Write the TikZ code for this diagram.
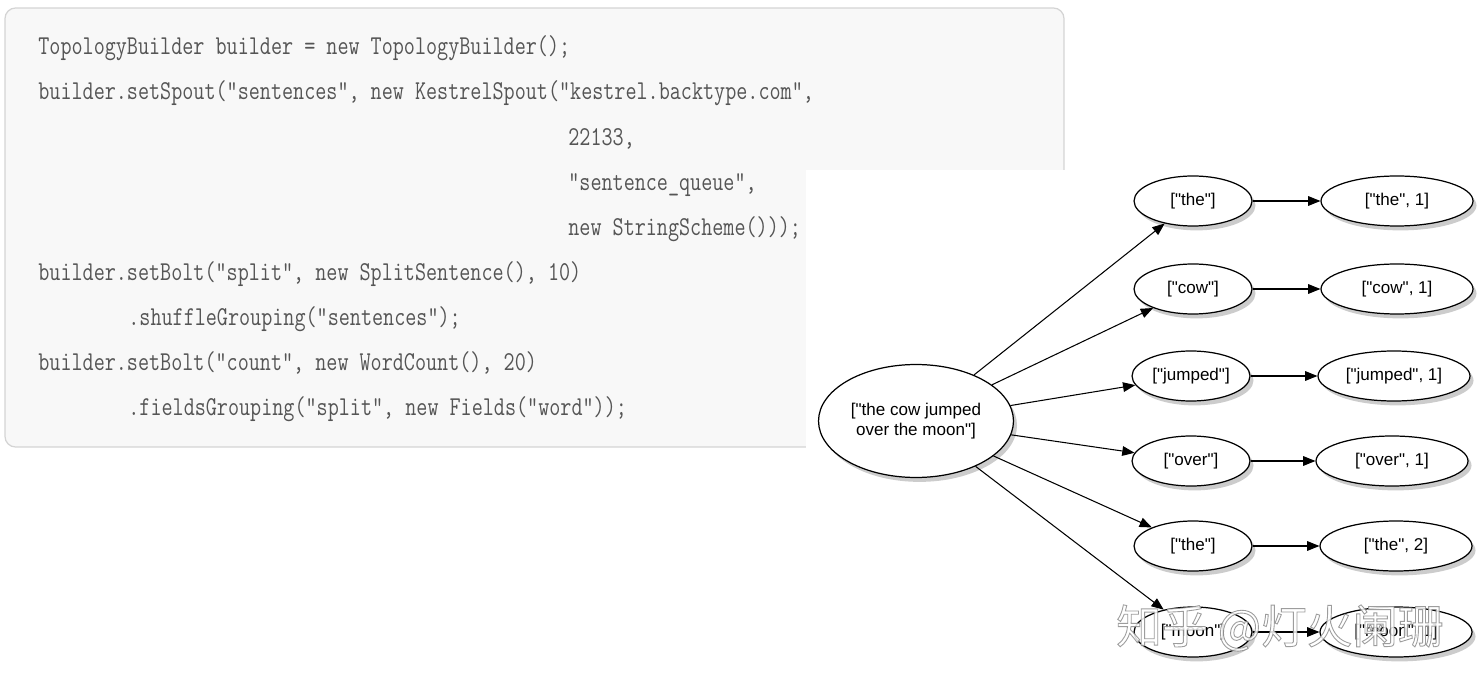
\documentclass[tikz,border=0pt]{standalone}
\usepackage{fontspec}
\setmainfont{Liberation Sans}[Ligatures=TeXOff]
\newfontfamily\wmfont{Noto Sans CJK SC}
\usepackage{graphicx}
\usepackage{xcolor}
\usetikzlibrary{positioning,shapes.geometric,arrows.meta,shadows}

\definecolor{codegray}{HTML}{555555}
\definecolor{panelfill}{HTML}{F8F8F8}
\definecolor{panelline}{HTML}{D4D4D4}

% narrow monospace line
\newcommand{\cl}[1]{\scalebox{0.79}[1]{#1}}

\tikzset{
  code/.style={anchor=base west, inner sep=0pt, text=codegray,
    font=\ttfamily\fontsize{15.5}{18}\selectfont},
  tuple/.style={ellipse, draw, line width=0.7pt, fill=white, inner sep=1pt,
    minimum height=1cm, font=\fontsize{9.7}{11.5}\selectfont,
    drop shadow={opacity=0.4, shadow xshift=2pt, shadow yshift=-2.5pt}},
  wordnode/.style={tuple, minimum width=2.36cm},
  pairnode/.style={tuple, minimum width=3.04cm},
  link/.style={-{Triangle[length=7pt,width=5.5pt]}, line width=0.6pt}
}

\begin{document}
\begin{tikzpicture}[x=0.02cm,y=-0.02cm]
\useasboundingbox (0,0) rectangle (1479,678);

% CODE PANEL
\draw[panelline, fill=panelfill, line width=0.7pt, rounded corners=6pt] (5,8) rectangle (1064,447);
\node[code] (l1) at (38,55) {\cl{TopologyBuilder builder = new TopologyBuilder();}};
\node[code] (l2) at (38,100) {\cl{builder.setSpout("sentences", new KestrelSpout("kestrel.backtype.com",}};
\node[code] (l3) at (568,145.5) {\cl{22133,}};
\node[code] (l4) at (568,191) {\cl{"sentence\_queue",}};
\node[code] (l5) at (568,236) {\cl{new StringScheme()));}};
\node[code] (l6) at (38,281) {\cl{builder.setBolt("split", new SplitSentence(), 10)}};
\node[code] (l7) at (128,326) {\cl{.shuffleGrouping("sentences");}};
\node[code] (l8) at (38,371) {\cl{builder.setBolt("count", new WordCount(), 20)}};
\node[code] (l9) at (128,416) {\cl{.fieldsGrouping("split", new Fields("word"));}};

% TOPOLOGY (overlaid picture)
\fill[white] (806,170) rectangle (1479,678);

\node[tuple, minimum width=3.9cm, minimum height=2.26cm, align=center] (sent) at (916,421)
  {["the cow jumped\\over the moon"]};

\node[wordnode] (w1) at (1193,201) {["the"]};
\node[wordnode] (w2) at (1193,289) {["cow"]};
\node[wordnode] (w3) at (1191,376) {["jumped"]};
\node[wordnode] (w4) at (1191,461) {["over"]};
\node[wordnode] (w5) at (1193,546) {["the"]};
\node[wordnode] (w6) at (1193,632) {["moon"]};

\node[pairnode] (c1) at (1397,201) {["the", 1]};
\node[pairnode] (c2) at (1397,289) {["cow", 1]};
\node[pairnode] (c3) at (1394,376) {["jumped", 1]};
\node[pairnode] (c4) at (1392,461) {["over", 1]};
\node[pairnode] (c5) at (1396,546) {["the", 2]};
\node[pairnode] (c6) at (1396,632) {["moon", 1]};

\foreach \i in {1,...,6}{
  \draw[link] (sent) -- (w\i);
  \draw[link] (w\i) -- (c\i);
}

% watermark
\node[font=\wmfont\fontsize{26}{26}\selectfont, text=white, opacity=0.85] (wm) at (1280,628)
  {\special{pdf:literal direct 2 Tr 0.5 w 0.55 G}知乎 @灯火阑珊\special{pdf:literal direct 0 Tr}};
\end{tikzpicture}
\end{document}
